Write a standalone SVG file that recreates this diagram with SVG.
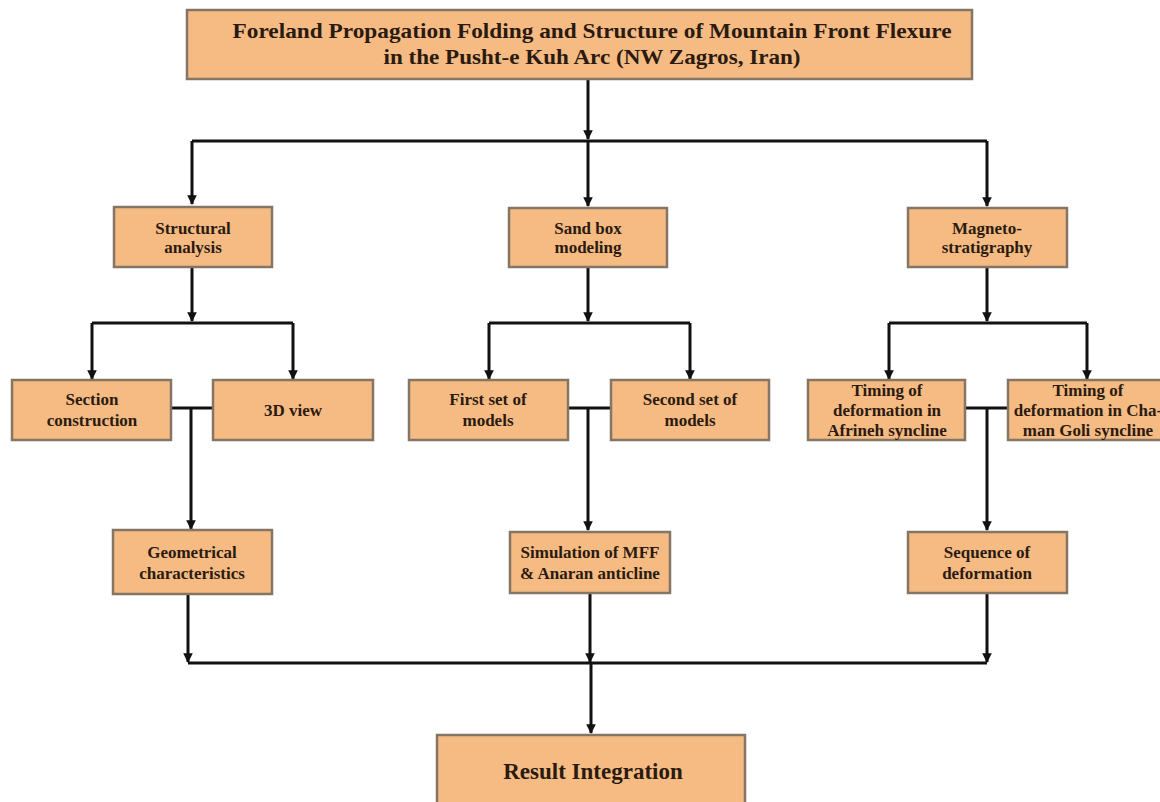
<svg xmlns="http://www.w3.org/2000/svg" width="1160" height="802" viewBox="0 0 1160 802">
<defs>
<style>
.box{fill:#F5BB83;stroke:#857565;stroke-width:2.5}
.t{font-family:"Liberation Serif","Times New Roman",serif;font-weight:bold;fill:#2b1a10;text-anchor:middle}
.s{font-size:17px}
.ln{fill:none;stroke:#111;stroke-width:3}
</style>
<marker id="ah" viewBox="0 0 10 10" refX="9" refY="5" markerWidth="3.2" markerHeight="3.2" orient="auto" markerUnits="strokeWidth">
<path d="M0,0 L10,5 L0,10 z" fill="#111"/>
</marker>
</defs>
<rect width="1160" height="802" fill="#ffffff"/>
<g id="connectors">
<path class="ln" d="M588,79 V139" marker-end="url(#ah)"/>
<path class="ln" d="M192,141 H987"/>
<path class="ln" d="M192,141 V204" marker-end="url(#ah)"/>
<path class="ln" d="M588,141 V206" marker-end="url(#ah)"/>
<path class="ln" d="M987,141 V206" marker-end="url(#ah)"/>
<path class="ln" d="M192,267 V321" marker-end="url(#ah)"/>
<path class="ln" d="M92,323 H293"/>
<path class="ln" d="M92,323 V379" marker-end="url(#ah)"/>
<path class="ln" d="M293,323 V379" marker-end="url(#ah)"/>
<path class="ln" d="M588,267 V321" marker-end="url(#ah)"/>
<path class="ln" d="M489,323 H690"/>
<path class="ln" d="M489,323 V379" marker-end="url(#ah)"/>
<path class="ln" d="M690,323 V379" marker-end="url(#ah)"/>
<path class="ln" d="M987,267 V321" marker-end="url(#ah)"/>
<path class="ln" d="M889,323 H1087"/>
<path class="ln" d="M889,323 V379" marker-end="url(#ah)"/>
<path class="ln" d="M1087,323 V379" marker-end="url(#ah)"/>
<path class="ln" d="M171,408 H213"/>
<path class="ln" d="M191,408 V529" marker-end="url(#ah)"/>
<path class="ln" d="M568,408 H611"/>
<path class="ln" d="M588,408 V530" marker-end="url(#ah)"/>
<path class="ln" d="M965,408 H1008"/>
<path class="ln" d="M987,408 V530" marker-end="url(#ah)"/>
<path class="ln" d="M188,594 V662" marker-end="url(#ah)"/>
<path class="ln" d="M590,593 V662" marker-end="url(#ah)"/>
<path class="ln" d="M987,593 V662" marker-end="url(#ah)"/>
<path class="ln" d="M188,663 H987"/>
<path class="ln" d="M591,663 V733" marker-end="url(#ah)"/>
</g>
<g id="title">
<rect class="box" x="187" y="10" width="785" height="69"/>
<text class="t" x="592" y="38" font-size="22" textLength="719" lengthAdjust="spacingAndGlyphs">Foreland Propagation Folding and Structure of Mountain Front Flexure</text>
<text class="t" x="592" y="64" font-size="22" textLength="417" lengthAdjust="spacingAndGlyphs">in the Pusht-e Kuh Arc (NW Zagros, Iran)</text>
</g>
<g id="structural">
<rect class="box" x="114" y="207" width="158" height="60"/>
<text class="t s" x="193" y="234">Structural</text>
<text class="t s" x="193" y="253">analysis</text>
</g>
<g id="sandbox">
<rect class="box" x="509" y="208" width="158" height="59"/>
<text class="t s" x="588" y="234">Sand box</text>
<text class="t s" x="588" y="253">modeling</text>
</g>
<g id="magneto">
<rect class="box" x="908" y="208" width="159" height="59"/>
<text class="t s" x="987" y="234">Magneto-</text>
<text class="t s" x="987" y="253">stratigraphy</text>
</g>
<g id="section">
<rect class="box" x="12" y="380" width="159" height="60"/>
<text class="t s" x="92" y="405">Section</text>
<text class="t s" x="92" y="426">construction</text>
</g>
<g id="view3d">
<rect class="box" x="213" y="380" width="160" height="60"/>
<text class="t s" x="293" y="416">3D view</text>
</g>
<g id="firstset">
<rect class="box" x="409" y="380" width="159" height="60"/>
<text class="t s" x="488" y="405">First set of</text>
<text class="t s" x="488" y="426">models</text>
</g>
<g id="secondset">
<rect class="box" x="611" y="380" width="158" height="60"/>
<text class="t s" x="690" y="405">Second set of</text>
<text class="t s" x="690" y="426">models</text>
</g>
<g id="afrineh">
<rect class="box" x="808" y="380" width="157" height="60"/>
<text class="t s" x="887" y="396">Timing of</text>
<text class="t s" x="887" y="416">deformation in</text>
<text class="t s" x="887" y="436">Afrineh syncline</text>
</g>
<g id="chamangoli">
<rect class="box" x="1008" y="380" width="160" height="60"/>
<text class="t s" x="1088" y="396">Timing of</text>
<text class="t s" x="1088" y="416">deformation in Cha-</text>
<text class="t s" x="1088" y="436">man Goli syncline</text>
</g>
<g id="geometrical">
<rect class="box" x="113" y="530" width="159" height="64"/>
<text class="t s" x="192" y="558">Geometrical</text>
<text class="t s" x="192" y="579">characteristics</text>
</g>
<g id="simulation">
<rect class="box" x="510" y="532" width="160" height="61"/>
<text class="t s" x="590" y="558">Simulation of MFF</text>
<text class="t s" x="590" y="579">&amp; Anaran anticline</text>
</g>
<g id="sequence">
<rect class="box" x="908" y="532" width="159" height="61"/>
<text class="t s" x="987" y="558">Sequence of</text>
<text class="t s" x="987" y="579">deformation</text>
</g>
<g id="result">
<rect class="box" x="437" y="735" width="308" height="80"/>
<text class="t" x="593" y="779" font-size="23">Result Integration</text>
</g>
</svg>
